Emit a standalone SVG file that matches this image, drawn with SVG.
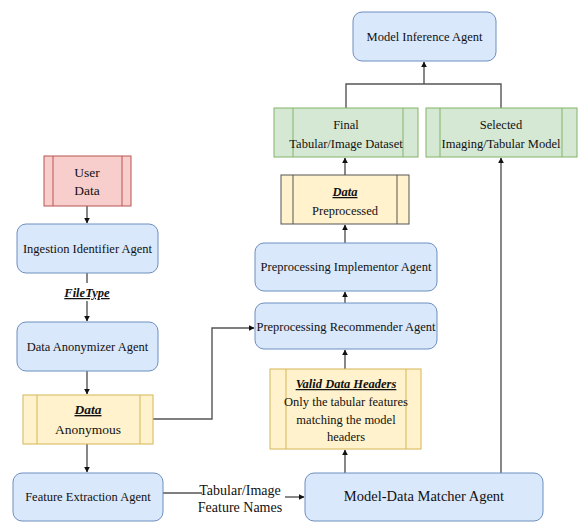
<svg xmlns="http://www.w3.org/2000/svg" width="579" height="523" viewBox="0 0 579 523" font-family="Liberation Serif, DejaVu Serif, Times New Roman, serif">
<defs>
<marker id="ah" viewBox="0 0 10 10" refX="9" refY="5" markerWidth="6" markerHeight="6" orient="auto" markerUnits="userSpaceOnUse">
<path d="M0,0 L10,5 L0,10 z" fill="#111"/>
</marker>
<style>
text{font-size:12.5px;fill:#111;text-anchor:middle}
.agent{fill:#dae8fc;stroke:#6c8ebf;stroke-width:1}
.yel{fill:#fff2cc;stroke:#d6b656;stroke-width:1}
.grn{fill:#d5e8d4;stroke:#82b366;stroke-width:1}
.red{fill:#f8cecc;stroke:#b85450;stroke-width:1}
.iy{stroke:#d6b656;stroke-width:1}
.ig{stroke:#82b366;stroke-width:1}
.ir{stroke:#b85450;stroke-width:1}
.c{fill:none;stroke:#555;stroke-width:1.4}
.ca{fill:none;stroke:#555;stroke-width:1.4;marker-end:url(#ah)}
.b{font-weight:bold;font-style:italic;text-decoration:underline}
</style>
</defs>
<rect width="579" height="523" fill="#fff"/>
<g id="connectors">
<path class="ca" d="M87,206 L87,223"/>
<path class="c" d="M87,273 L87,283"/>
<path class="ca" d="M87,301 L87,321"/>
<path class="ca" d="M87,371 L87,394"/>
<path class="ca" d="M87,444 L87,472"/>
<path class="ca" d="M153,419 L212,419 L212,328 L254,328"/>
<path class="c" d="M163,493 L202,493"/>
<path class="ca" d="M285,497 L304,497"/>
<path class="ca" d="M345,473 L345,450"/>
<path class="ca" d="M345,369 L345,350"/>
<path class="ca" d="M345,303 L345,292"/>
<path class="ca" d="M345,243 L345,225"/>
<path class="ca" d="M345,175 L345,158"/>
<path class="c" d="M346,108 L346,84 L501,84 L501,108"/>
<path class="ca" d="M424,84 L424,62"/>
<path class="ca" d="M501,473 L501,158"/>
</g>
<g id="model-inference">
<rect class="agent" x="353" y="12" width="143" height="49" rx="9"/>
<text x="424.5" y="41" font-family="Liberation Serif">Model Inference Agent</text>
</g>
<g id="final-dataset">
<rect class="grn" x="274" y="108" width="144" height="49"/>
<line class="ig" x1="293" y1="108" x2="293" y2="157"/>
<line class="ig" x1="403" y1="108" x2="403" y2="157"/>
<text x="346" y="129">Final</text>
<text x="346" y="148">Tabular/Image Dataset</text>
</g>
<g id="selected-model">
<rect class="grn" x="426" y="108" width="151" height="49"/>
<line class="ig" x1="440" y1="108" x2="440" y2="157"/>
<line class="ig" x1="562" y1="108" x2="562" y2="157"/>
<text x="501" y="129">Selected</text>
<text x="501" y="148">Imaging/Tabular Model</text>
</g>
<g id="data-preprocessed">
<rect class="yel" x="281" y="175" width="128" height="49" style="stroke:#555"/>
<line class="c" x1="293" y1="175" x2="293" y2="224" style="stroke-width:1"/>
<line class="c" x1="397" y1="175" x2="397" y2="224" style="stroke-width:1"/>
<text x="345" y="196" class="b">Data</text>
<text x="345" y="215">Preprocessed</text>
</g>
<g id="preprocessing-implementor">
<rect class="agent" x="255" y="243" width="182" height="48" rx="9"/>
<text x="346" y="271">Preprocessing Implementor Agent</text>
</g>
<g id="preprocessing-recommender">
<rect class="agent" x="255" y="303" width="182" height="46" rx="9"/>
<text x="346" y="331">Preprocessing Recommender Agent</text>
</g>
<g id="valid-data-headers">
<rect class="yel" x="270" y="369" width="151" height="80"/>
<line class="iy" x1="286" y1="369" x2="286" y2="449"/>
<line class="iy" x1="406" y1="369" x2="406" y2="449"/>
<text x="346" y="388" class="b">Valid Data Headers</text>
<text x="346" y="406">Only the tabular features</text>
<text x="346" y="424">matching the model</text>
<text x="346" y="441">headers</text>
</g>
<g id="model-data-matcher">
<rect class="agent" x="305" y="473" width="238" height="48" rx="9"/>
<text x="424" y="501" style="font-size:14.5px">Model-Data Matcher Agent</text>
</g>
<g id="user-data">
<rect class="red" x="44" y="156" width="87" height="50"/>
<line class="ir" x1="53" y1="156" x2="53" y2="206"/>
<line class="ir" x1="122" y1="156" x2="122" y2="206"/>
<text x="87" y="177" style="font-size:13.5px">User</text>
<text x="87" y="195" style="font-size:13.5px">Data</text>
</g>
<g id="ingestion-identifier">
<rect class="agent" x="17" y="224" width="141" height="49" rx="9"/>
<text x="87.5" y="253">Ingestion  Identifier Agent</text>
</g>
<g id="filetype-label">
<text x="87" y="297" class="b">FileType</text>
</g>
<g id="data-anonymizer">
<rect class="agent" x="17" y="322" width="141" height="49" rx="9"/>
<text x="87.5" y="351">Data Anonymizer Agent</text>
</g>
<g id="data-anonymous">
<rect class="yel" x="23" y="395" width="130" height="49"/>
<line class="iy" x1="37" y1="395" x2="37" y2="444"/>
<line class="iy" x1="140" y1="395" x2="140" y2="444"/>
<text x="88" y="414" class="b" style="font-size:13.5px">Data</text>
<text x="88" y="434" style="font-size:13.5px">Anonymous</text>
</g>
<g id="feature-extraction">
<rect class="agent" x="13" y="473" width="150" height="48" rx="9"/>
<text x="88" y="501">Feature Extraction Agent</text>
</g>
<g id="feature-names-label">
<text x="240" y="495" style="font-size:14px">Tabular/Image</text>
<text x="240" y="512" style="font-size:14px">Feature Names</text>
</g>
</svg>
